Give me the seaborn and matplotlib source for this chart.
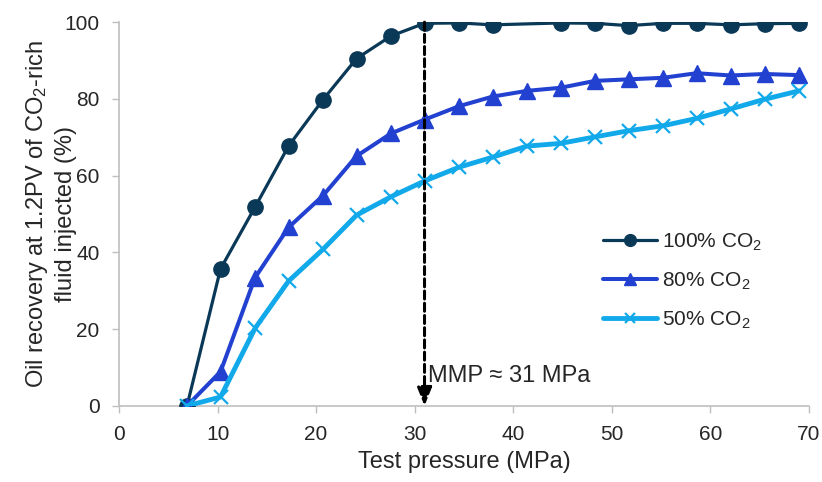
import numpy as np
import pandas as pd
import matplotlib
matplotlib.use("Agg")
import matplotlib.pyplot as plt
import seaborn as sns

# ---- data ----
pressure = [6.9, 10.3, 13.8, 17.2, 20.7, 24.1, 27.6, 31.0, 34.5, 37.9,
            41.4, 44.8, 48.3, 51.7, 55.2, 58.6, 62.1, 65.5, 69.0]
rec_100 = [0.0, 35.7, 51.8, 67.7, 79.8, 90.5, 96.4, 99.7, 99.8, 99.3,
           np.nan, 99.8, 99.7, 99.1, 99.7, 99.7, 99.3, 99.6, 99.7]
rec_80 = [0.0, 8.9, 33.4, 46.5, 54.8, 65.1, 71.0, 74.6, 78.1, 80.6,
          82.1, 82.9, 84.7, 85.1, 85.5, 86.7, 86.1, 86.5, 86.2]
rec_50 = [0.0, 2.3, 20.2, 32.5, 40.8, 49.7, 54.5, 58.6, 62.2, 64.8,
          67.7, 68.4, 70.1, 71.7, 73.0, 74.9, 77.4, 79.9, 82.1]
series_names = ["100% CO$_2$", "80% CO$_2$", "50% CO$_2$"]
mmp = 31.0
xticks = [0, 10, 20, 30, 40, 50, 60, 70]
yticks = [0, 20, 40, 60, 80, 100]

sns.set_theme(style="white")
plt.rcParams['font.family'] = ['Liberation Sans', 'DejaVu Sans']
plt.rcParams['mathtext.fontset'] = 'custom'
plt.rcParams['mathtext.rm'] = 'Liberation Sans'
plt.rcParams['mathtext.it'] = 'Liberation Sans'

colors = ["#0A3857", "#2241D1", "#12A9EA"]
markers = ["o", "^", "x"]
msizes = [11, 11, 9.5]
lws = [2.3, 2.9, 3.5]
mews = [1, 1, 1.6]

fig = plt.figure(figsize=(8.22, 4.82), dpi=100)
ax = fig.add_axes([0.1448, 0.158, 0.8392, 0.796])

for name, vals, c, m, ms, lw, mew in zip(series_names, [rec_100, rec_80, rec_50],
                                          colors, markers, msizes, lws, mews):
    df = pd.DataFrame({"p": pressure, "r": vals}).dropna()
    sns.lineplot(data=df, x="p", y="r", ax=ax, color=c, marker=m, markersize=ms,
                 linewidth=lw, markeredgecolor=c, markeredgewidth=mew, label=name,
                 zorder=3)

# MMP dashed arrow
ax.annotate("", xy=(mmp, 0), xytext=(mmp, 100),
            arrowprops=dict(arrowstyle="-|>,head_length=0.55,head_width=0.22",
                            linestyle=(0, (2.6, 1.4)), color="black",
                            lw=2.2, mutation_scale=20, shrinkA=0, shrinkB=0),
            zorder=4)
ax.text(mmp + 0.4, 7.7, "MMP ≈ 31 MPa", fontsize=17, va="center", ha="left")

ax.set_xlim(0, 70)
ax.set_ylim(0, 100)
ax.set_xticks(xticks)
ax.set_yticks(yticks)
ax.tick_params(axis="both", labelsize=15, direction="out", length=5, width=1,
               color="#BFBFBF", pad=9, bottom=True, left=True)
for s in ["top", "right"]:
    ax.spines[s].set_visible(False)
for s in ["left", "bottom"]:
    ax.spines[s].set_color("#BFBFBF")
    ax.spines[s].set_linewidth(1.2)

ax.set_xlabel("Test pressure (MPa)", fontsize=17, labelpad=5)
ax.set_ylabel("Oil recovery at 1.2PV of CO$_2$-rich\nfluid injected (%)",
              fontsize=17, linespacing=1.3)
ax.yaxis.set_label_coords(-0.061, 0.5)

leg = ax.legend(loc="upper left", bbox_to_anchor=(0.674, 0.504), frameon=False,
                fontsize=15, handlelength=2.6, labelspacing=0.85, handletextpad=0.25)
for h, ms in zip(leg.legend_handles, [8.5, 8.5, 7.5]):
    h.set_markersize(ms)

fig.savefig("out.png", dpi=100)
